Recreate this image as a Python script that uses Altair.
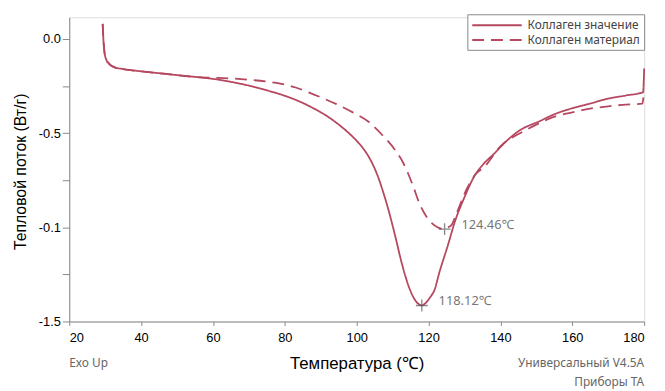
import altair as alt
import pandas as pd

# ---- data ----
SERIES = ["Коллаген значение", "Коллаген материал"]

T_solid = [29.3, 29.5, 29.8, 30.3, 31.0, 32.5, 35, 40, 45, 50, 55.7, 60, 65, 70, 75, 80,
           85, 90, 92, 94.2, 97, 99.7, 101.5, 103.3, 104.7, 106, 107.4, 108.8, 110.7, 112.6,
           114.8, 116.3, 117.3, 118.12, 119, 120.5, 121.7, 123, 125.3, 127.5, 130, 132.7,
           135, 138.2, 141.8, 145, 151.1, 155, 160.2, 165, 169.3, 175, 179.7, 180.0]
HF_solid = [0.08, 0.0, -0.07, -0.11, -0.13, -0.15, -0.16, -0.172, -0.182, -0.192, -0.203,
            -0.212, -0.228, -0.248, -0.273, -0.302, -0.34, -0.39, -0.413, -0.443, -0.486,
            -0.535, -0.574, -0.624, -0.675, -0.735, -0.815, -0.905, -1.045, -1.195, -1.33,
            -1.388, -1.408, -1.415, -1.405, -1.37, -1.33, -1.24, -1.10, -0.96, -0.84, -0.73,
            -0.67, -0.61, -0.54, -0.49, -0.435, -0.40, -0.367, -0.343, -0.32, -0.30, -0.283,
            -0.157]

T_dashed = [29.3, 29.5, 29.8, 30.3, 31.0, 32.5, 35, 40, 45, 50, 55.7, 60, 65, 70, 77.7, 80,
            83, 86.8, 90, 94.2, 98.9, 103.3, 107.1, 110.7, 113, 115.4, 117.5, 119.3, 120.9,
            122.5, 124.46, 125.5, 126.5, 127.5, 130.8, 133, 135.5, 140, 146.5, 150, 155.5,
            160, 164.9, 170, 174, 179.5, 179.8]
HF_dashed = [0.08, 0.0, -0.07, -0.11, -0.13, -0.15, -0.16, -0.172, -0.182, -0.192, -0.203,
             -0.206, -0.21, -0.217, -0.234, -0.242, -0.258, -0.285, -0.31, -0.345, -0.39,
             -0.44, -0.51, -0.59, -0.66, -0.766, -0.875, -0.94, -0.978, -1.0, -1.01, -1.0,
             -0.985, -0.94, -0.79, -0.72, -0.68, -0.57, -0.49, -0.455, -0.41, -0.39, -0.37,
             -0.358, -0.35, -0.343, -0.31]

PEAK_T = [118.12, 124.46]
PEAK_HF = [-1.415, -1.01]
PEAK_LABELS = ["118.12℃", "124.46℃"]

X_TICKS = list(range(20, 181, 5))
Y_TICKS = [0.0, -0.125, -0.25, -0.375, -0.5, -0.625, -0.75, -0.875, -1.0,
           -1.125, -1.25, -1.375, -1.5]
Y_LABELS = {0.0: "0.0", -0.5: "-0.5", -1.0: "-0.1", -1.5: "-1.5"}

COLOR = "#b5475f"
FONT = "Noto Sans"

rows = []
for t, v in zip(T_solid, HF_solid):
    rows.append({"T": t, "HF": v, "series": SERIES[0]})
for t, v in zip(T_dashed, HF_dashed):
    rows.append({"T": t, "HF": v, "series": SERIES[1]})
df = pd.DataFrame(rows)

peaks = pd.DataFrame({"T": PEAK_T, "HF": PEAK_HF, "label": PEAK_LABELS})

y_expr = " : ".join(
    [f"datum.value == {k} ? '{v}'" for k, v in Y_LABELS.items()]
) + " : ''"

x_scale = alt.Scale(domain=[20, 180], nice=False, zero=False)
y_scale = alt.Scale(domain=[-1.5, 0.115], nice=False, zero=False)

x_enc = alt.X("T:Q", scale=x_scale,
              axis=alt.Axis(values=X_TICKS, title="Температура (℃)", grid=False,
                            labelExpr="datum.value % 20 == 0 ? datum.label : ''",
                            tickSize=4, labelPadding=6, labelFontSize=13,
                            titleFontSize=17, titleFontWeight="normal",
                            titleY=43, titleBaseline="middle"))
y_enc = alt.Y("HF:Q", scale=y_scale,
              axis=alt.Axis(values=Y_TICKS, title="Тепловой поток (Вт/г)", grid=False,
                            labelExpr=y_expr, tickSize=7, labelPadding=2,
                            labelFontSize=13, titleFontSize=16,
                            titleFontWeight="normal", titleX=-49, titleY=156,
                            titleAlign="center", titleBaseline="middle",
                            titleAngle=-90))

legend_cfg = dict(title=None, orient="none", legendX=403, legendY=-3,
                  symbolType="M-4.17,0H4.17", symbolSize=144, symbolOffset=19,
                  symbolStrokeWidth=2, labelFontSize=12, labelColor="#444",
                  labelFont=FONT, labelOffset=24, rowPadding=2, padding=4,
                  strokeColor="#888", fillColor="white")

lines = alt.Chart(df).mark_line(strokeWidth=1.8, interpolate="monotone").encode(
    x=x_enc,
    y=y_enc,
    color=alt.Color("series:N",
                    scale=alt.Scale(domain=SERIES, range=[COLOR, COLOR]),
                    legend=alt.Legend(**legend_cfg)),
    strokeDash=alt.StrokeDash("series:N",
                              scale=alt.Scale(domain=SERIES,
                                              range=[[1, 0], [12, 7]]),
                              legend=alt.Legend(**legend_cfg)),
    order=alt.Order("T:Q"),
)

crosses = alt.Chart(peaks).mark_point(
    shape="M-1,0H1M0,-1V1", size=144, filled=False, strokeWidth=1.3, color="#555"
).encode(x=alt.X("T:Q", scale=x_scale), y=alt.Y("HF:Q", scale=y_scale))

labels = alt.Chart(peaks).mark_text(
    align="left", baseline="middle", dx=17, dy=-4, fontSize=13, color="#777", font=FONT
).encode(x=alt.X("T:Q", scale=x_scale), y=alt.Y("HF:Q", scale=y_scale),
         text="label:N")

notes = pd.DataFrame({"txt": ["Exo Up"]})
exo = alt.Chart(notes).mark_text(align="left", baseline="middle", fontSize=12,
                                 color="#666", font=FONT).encode(
    x=alt.value(0), y=alt.value(350), text="txt:N")
notes2 = pd.DataFrame({"txt": ["Универсальный V4.5A"]})
uni = alt.Chart(notes2).mark_text(align="right", baseline="middle", fontSize=12,
                                  color="#666", font=FONT).encode(
    x=alt.value(582), y=alt.value(350), text="txt:N")
notes3 = pd.DataFrame({"txt": ["Приборы TA"]})
ta = alt.Chart(notes3).mark_text(align="right", baseline="middle", fontSize=12,
                                 color="#666", font=FONT).encode(
    x=alt.value(582), y=alt.value(369), text="txt:N")

chart = alt.layer(lines, crosses, labels, exo, uni, ta).properties(
    width=582, height=308,
    autosize=alt.AutoSizeParams(type="none"),
    padding={"left": 62, "top": 7, "right": 13, "bottom": 68},
).configure_view(stroke="transparent").configure_axis(
    grid=False, domainColor="#aaa", tickColor="#aaa", labelColor="#888",
    titleColor="#555", labelFont=FONT, titleFont=FONT, domainWidth=1.5,
).configure(background="white")

chart.save("out.html", embed_options={"renderer": "svg", "actions": False})
